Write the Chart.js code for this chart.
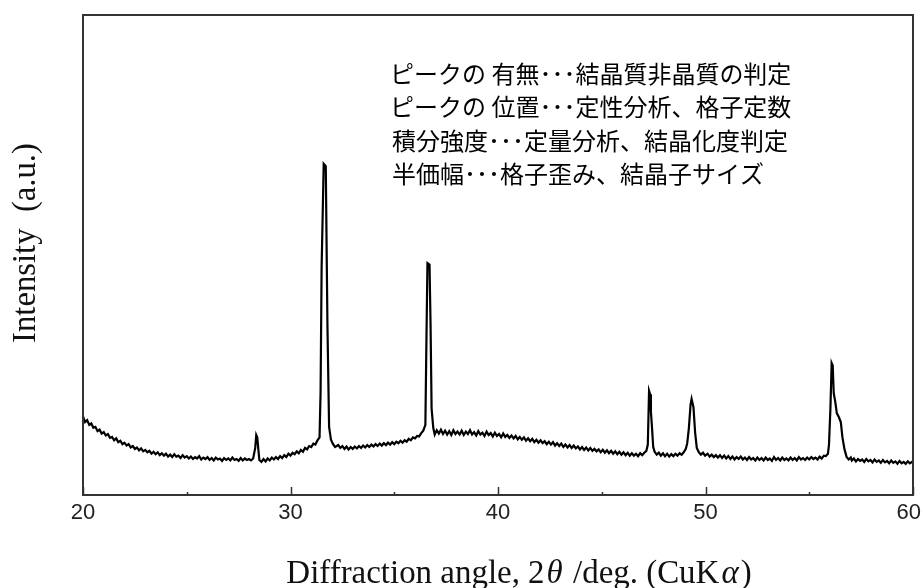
<!DOCTYPE html>
<html>
<head>
<meta charset="utf-8">
<script src="https://cdn.jsdelivr.net/npm/chart.js@4.4.1/dist/chart.umd.min.js"></script>
<style>
  html, body { margin: 0; padding: 0; background: #fff; }
  canvas { display: block; }
</style>
</head>
<body>
<canvas id="xrd" width="921" height="588"></canvas>
<script>
// pattern, [2theta, intensity a.u.]
const lowAngle = [
  [20.0,16.4],[20.1,15.2],[20.2,15.6],[20.3,14.6],[20.4,14.9],[20.5,14.0],[20.6,14.2],[20.7,13.3],[20.8,13.6],[20.9,12.8],
  [21.0,13.1],[21.1,12.4],[21.2,12.7],[21.3,11.9],[21.4,12.1],[21.5,11.4],[21.6,11.8],[21.7,11.0],[21.8,11.3],[21.9,10.6],
  [22.0,10.9],[22.1,10.3],[22.2,10.6],[22.3,9.9],[22.4,10.2],[22.5,9.6],[22.6,9.9],[22.7,9.3],[22.8,9.7],[22.9,9.1],
  [23.0,9.4],[23.1,8.9],[23.2,9.2],[23.3,8.6],[23.4,9.0],[23.5,8.5],[23.6,8.9],[23.7,8.3],[23.8,8.7],[23.9,8.2],
  [24.0,8.6],[24.1,8.0],[24.2,8.4],[24.3,7.9],[24.4,8.5],[24.5,8.0],[24.6,8.2],[24.7,7.7],[24.8,8.3],[24.9,7.8],
  [25.0,8.1],[25.1,7.6],[25.2,8.0],[25.3,7.5],[25.4,7.9],[25.5,7.6],[25.6,8.1],[25.7,7.4],[25.8,7.8],[25.9,7.5],
  [26.0,7.9],[26.1,7.3],[26.2,7.7],[26.3,7.2],[26.4,7.8],[26.5,7.4],[26.6,7.6],[26.7,7.1],[26.8,7.7],[26.9,7.3],
  [27.0,7.6],[27.1,7.2],[27.2,7.8],[27.3,7.3],[27.4,7.5],[27.5,7.1],[27.6,7.7],[27.7,7.2],[27.8,7.6],[27.9,7.3],
  [28.0,7.5],[28.1,7.2],[28.2,7.6],[28.3,9.8],[28.35,12.5],[28.4,12.0],[28.45,9.5],[28.5,7.3],[28.6,6.9],[28.7,7.5],
  [28.8,7.0],[28.9,7.6],[29.0,7.2],[29.1,7.8],[29.2,7.4],[29.3,7.9],[29.4,7.5],[29.5,8.1],[29.6,7.7],[29.7,8.3],
  [29.8,7.9],[29.9,8.6],[30.0,8.2],[30.1,8.8],[30.2,8.5],[30.3,9.1],[30.4,8.7],[30.5,9.4],[30.6,9.0],[30.7,9.8],
  [30.8,9.5],[30.9,10.2],[31.0,10.0],[31.1,10.7],[31.2,10.5],[31.3,11.4],[31.4,12.0]
];
const peak31 = [[31.45,21.5],[31.5,47.5],[31.6,69],[31.7,68.5],[31.78,35.4],[31.86,14.2],[31.95,11.5],[32.05,10.6],[32.15,10.0]];
const mid32 = [
  [32.3,10.4],[32.4,9.8],[32.5,10.2],[32.6,9.6],[32.7,10.1],[32.8,9.5],[32.9,10.0],[33.0,9.6],[33.1,10.1],[33.2,9.7],
  [33.3,10.2],[33.4,9.8],[33.5,10.3],[33.6,9.9],[33.7,10.4],[33.8,10.0],[33.9,10.5],[34.0,10.1],[34.1,10.6],[34.2,10.2],
  [34.3,10.7],[34.4,10.3],[34.5,10.8],[34.6,10.4],[34.7,10.9],[34.8,10.5],[34.9,11.0],[35.0,10.6],[35.1,11.1],[35.2,10.8],
  [35.3,11.3],[35.4,10.9],[35.5,11.4],[35.6,11.1],[35.7,11.7],[35.8,11.4],[35.9,12.0],[36.0,11.8],[36.1,12.3],[36.2,12.2],
  [36.3,12.9],[36.4,13.4],[36.5,14.6]
];
const peak36 = [[36.55,31.9],[36.6,48.3],[36.7,48.0],[36.75,35.4],[36.8,18.0],[36.88,14.0],[36.95,12.6]];
const hump40 = [
  [37.05,13.5],[37.15,12.8],[37.25,13.6],[37.35,12.7],[37.45,13.4],[37.55,12.6],[37.65,13.3],[37.75,12.5],[37.85,13.5],[37.95,12.7],
  [38.05,13.2],[38.15,12.6],[38.25,13.4],[38.35,12.5],[38.45,13.2],[38.55,12.7],[38.65,13.5],[38.75,12.6],[38.85,13.1],[38.95,12.4],
  [39.05,13.3],[39.15,12.6],[39.25,13.0],[39.35,12.3],[39.45,13.2],[39.55,12.5],[39.65,12.9],[39.75,12.2],[39.85,13.0],[39.95,12.3],
  [40.05,12.7],[40.15,12.0],[40.25,12.8],[40.35,12.1],[40.45,12.5],[40.55,11.9],[40.65,12.4],[40.75,11.8],[40.85,12.3],[40.95,11.6],
  [41.05,12.1],[41.15,11.5],[41.25,12.0],[41.35,11.3],[41.45,11.8],[41.55,11.2],[41.65,11.7],[41.75,11.0],[41.85,11.5],[41.95,10.9],
  [42.05,11.4],[42.15,10.8],[42.25,11.2],[42.35,10.6],[42.45,11.1],[42.55,10.5],[42.65,11.0],[42.75,10.3],[42.85,10.8],[42.95,10.2],
  [43.05,10.7],[43.15,10.0],[43.25,10.5],[43.35,9.9],[43.45,10.4],[43.55,9.8],[43.65,10.3],[43.75,9.7],[43.85,10.1],[43.95,9.5],
  [44.05,10.0],[44.15,9.4],[44.25,9.9],[44.35,9.3],[44.45,9.8],[44.55,9.2],[44.65,9.6],[44.75,9.1],[44.85,9.5],[44.95,8.9],
  [45.05,9.4],[45.15,8.8],[45.25,9.3],[45.35,8.7],[45.45,9.2],[45.55,8.6],[45.65,9.1],[45.75,8.5],[45.85,9.0],[45.95,8.4],
  [46.05,8.9],[46.15,8.3],[46.25,8.8],[46.35,8.2],[46.45,8.7],[46.55,8.2],[46.65,8.6],[46.75,8.1],[46.85,8.7],[46.95,8.3],
  [47.05,8.8],[47.15,9.2]
];
const peak47 = [[47.22,10.5],[47.28,21.7],[47.33,21.0],[47.37,17.3],[47.42,14.2],[47.48,10.0],[47.55,9.0]];
const gap48 = [
  [47.65,8.4],[47.75,8.8],[47.85,8.2],[47.95,8.7],[48.05,8.1],[48.15,8.6],[48.25,8.0],[48.35,8.5],[48.45,8.1],[48.55,8.6],
  [48.65,8.2],[48.75,8.7],[48.85,8.4],[48.95,8.9],[49.05,9.6]
];
const peak49 = [[49.12,10.8],[49.2,14.0],[49.28,18.8],[49.33,20.0],[49.42,18.3],[49.5,13.0],[49.58,9.8],[49.68,8.9]];
const flat52 = [
  [49.78,8.4],[49.88,8.8],[49.98,8.2],[50.1,8.6],[50.2,8.0],[50.3,8.4],[50.4,7.9],[50.5,8.3],[50.6,7.8],[50.7,8.3],
  [50.8,7.7],[50.9,8.2],[51.0,7.6],[51.1,8.1],[51.2,7.5],[51.3,8.0],[51.4,7.4],[51.5,7.9],[51.6,7.5],[51.7,8.0],
  [51.8,7.4],[51.9,7.8],[52.0,7.3],[52.1,7.9],[52.2,7.4],[52.3,7.7],[52.4,7.2],[52.5,7.8],[52.6,7.3],[52.7,7.7],
  [52.8,7.2],[52.9,7.8],[53.0,7.3],[53.1,7.6],[53.2,7.1],[53.3,7.9],[53.4,7.3],[53.5,7.7],[53.6,7.2],[53.7,7.8],
  [53.8,7.3],[53.9,7.6],[54.0,7.2],[54.1,7.8],[54.2,7.3],[54.3,7.7],[54.4,7.2],[54.5,7.9],[54.6,7.4],[54.7,7.7],
  [54.8,7.3],[54.9,7.8],[55.0,7.4],[55.1,7.9],[55.2,7.5],[55.3,7.8],[55.4,7.4],[55.5,8.0],[55.6,7.6],[55.7,8.2],
  [55.8,8.1],[55.9,8.6]
];
const peak56 = [[55.95,10.4],[56.02,18.0],[56.08,27.5],[56.13,27.0],[56.18,21.2],[56.25,19.5],[56.33,17.0],[56.42,16.3],[56.52,15.2],[56.6,12.0],[56.7,9.5],[56.8,7.9]];
const highAngle = [
  [56.9,7.4],[57.0,7.8],[57.05,7.2],[57.15,7.6],[57.25,7.0],[57.35,7.5],[57.45,7.1],[57.55,7.4],[57.65,6.9],[57.75,7.5],
  [57.85,7.0],[57.95,7.3],[58.05,6.8],[58.15,7.4],[58.25,6.9],[58.35,7.2],[58.45,6.7],[58.55,7.3],[58.65,6.8],[58.75,7.1],
  [58.85,6.6],[58.95,7.2],[59.05,6.7],[59.15,7.0],[59.25,6.5],[59.35,7.1],[59.45,6.6],[59.55,6.9],[59.65,6.5],[59.75,7.0],
  [59.85,6.6],[59.95,6.9],[60.0,6.7]
];

const majorTicks = [20, 30, 40, 50, 60];
const minorTicks = [25, 35, 45, 55];
const notes = [
  'ピークの 有無･･･結晶質非晶質の判定',
  'ピークの 位置･･･定性分析、格子定数',
  '積分強度･･･定量分析、結晶化度判定',
  '半価幅･･･格子歪み、結晶子サイズ'
];
const xTitleParts = [
  ['Diffraction angle, 2', false], ['\u03b8', true], [' /deg. (CuK', false], ['\u03b1', true], [')', false]
];
const yTitle = 'Intensity  (a.u.)';

const pattern = [].concat(lowAngle, peak31, mid32, peak36, hump40, peak47, gap48, peak49, flat52, peak56, highAngle)
  .map(p => ({ x: p[0], y: p[1] }));

// frame, inward ticks, labels and texts
const decor = {
  id: 'decor',
  afterDraw(chart) {
    const ctx = chart.ctx;
    const a = chart.chartArea;
    const xs = chart.scales.x;
    ctx.save();

    ctx.strokeStyle = '#333';
    ctx.lineWidth = 2;
    ctx.strokeRect(a.left, a.top, a.right - a.left, a.bottom - a.top);

    ctx.lineWidth = 1.5;
    ctx.beginPath();
    majorTicks.forEach(v => {
      const px = Math.round(xs.getPixelForValue(v)) + 0.5;
      ctx.moveTo(px, a.bottom); ctx.lineTo(px, a.bottom - 8);
    });
    minorTicks.forEach(v => {
      const px = Math.round(xs.getPixelForValue(v)) + 0.5;
      ctx.moveTo(px, a.bottom); ctx.lineTo(px, a.bottom - 3);
    });
    ctx.stroke();

    // tick labels
    ctx.fillStyle = '#222';
    ctx.font = '22px "Liberation Sans"';
    ctx.textBaseline = 'alphabetic';
    ctx.textAlign = 'center';
    majorTicks.forEach(v => {
      const t = String(v);
      const w = ctx.measureText(t).width;
      let px = xs.getPixelForValue(v);
      px = Math.min(px, chart.width - w / 2);
      ctx.fillText(t, px, a.bottom + 24);
    });

    // x title with italic greek letters, sized to span ~466px
    ctx.fillStyle = '#111';
    const widthAt = size => {
      let w = 0;
      xTitleParts.forEach(p => {
        ctx.font = (p[1] ? 'italic ' : '') + size + 'px "Liberation Serif"';
        w += ctx.measureText(p[0]).width + (p[1] ? 4 : 0);
      });
      return w;
    };
    const size = 31 * 466 / widthAt(31);
    const total = widthAt(size);
    let x = 519 - total / 2;
    ctx.textAlign = 'left';
    xTitleParts.forEach(p => {
      ctx.font = (p[1] ? 'italic ' : '') + size + 'px "Liberation Serif"';
      if (p[1]) x += 2;
      ctx.fillText(p[0], x, 583);
      x += ctx.measureText(p[0]).width + (p[1] ? 2 : 0);
    });

    // y title, ~200px long
    ctx.save();
    ctx.translate(35, 243);
    ctx.rotate(-Math.PI / 2);
    ctx.font = '30px "Liberation Serif"';
    const ySize = 30 * 200 / ctx.measureText(yTitle).width;
    ctx.font = ySize + 'px "Liberation Serif"';
    ctx.textAlign = 'center';
    ctx.fillText(yTitle, 0, 0);
    ctx.restore();

    // notes
    ctx.fillStyle = '#000';
    ctx.font = '24px "Noto Sans CJK JP"';
    ctx.textAlign = 'left';
    ctx.textBaseline = 'middle';
    notes.forEach((t, i) => {
      ctx.fillText(t, i < 2 ? 390 : 392, 74 + i * 33.3);
    });

    ctx.restore();
  }
};

new Chart(document.getElementById('xrd'), {
  type: 'line',
  data: {
    datasets: [{
      data: pattern,
      borderColor: '#000',
      borderWidth: 2.2,
      pointRadius: 0,
      tension: 0,
      fill: false
    }]
  },
  options: {
    responsive: false,
    animation: false,
    events: [],
    layout: { padding: { left: 83, right: 8, top: 15, bottom: 93 } },
    plugins: { legend: { display: false }, tooltip: { enabled: false } },
    scales: {
      x: { type: 'linear', min: 20, max: 60, display: false },
      y: { min: 0, max: 100, display: false }
    }
  },
  plugins: [decor]
});
</script>
</body>
</html>
